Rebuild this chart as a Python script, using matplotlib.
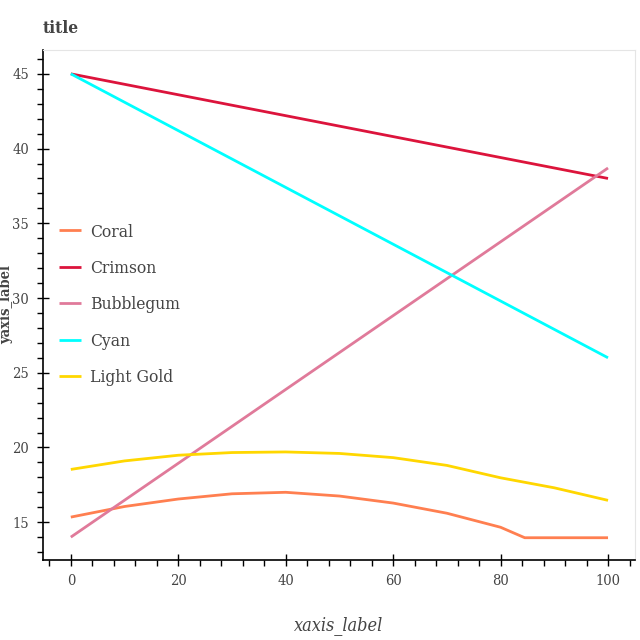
import matplotlib
matplotlib.use('Agg')
import matplotlib.pyplot as plt
from matplotlib.ticker import MultipleLocator

# data
x_lin = [0, 100]
crimson = [45.0, 38.0]
cyan = [45.0, 26.0]
bubblegum = [14.0, 38.7]

x_coral = [0, 10, 20, 30, 40, 50, 60, 70, 80, 84.5, 100]
coral = [15.34, 16.05, 16.55, 16.9, 17.0, 16.75, 16.28, 15.6, 14.66, 13.96, 13.96]

x_gold = [0, 10, 20, 30, 40, 50, 60, 70, 80, 90, 100]
gold = [18.53, 19.1, 19.48, 19.66, 19.7, 19.6, 19.32, 18.8, 17.97, 17.3, 16.46]

names = ['Coral', 'Crimson', 'Bubblegum', 'Cyan', 'Light Gold']
colors = ['#FF7F50', '#DC143C', '#E07A9A', '#00FFFF', '#FFD700']

fams = ['Noto Serif Condensed', 'Roboto Serif Condensed', 'Roboto Slab', 'DejaVu Serif']
font = dict(family=fams, stretch='condensed')

fig = plt.figure(figsize=(6.4, 6.4), dpi=100)
ax = fig.add_axes([0.067, 0.125, 0.925, 0.797])

series = [(x_coral, coral), (x_lin, crimson), (x_lin, bubblegum), (x_lin, cyan), (x_gold, gold)]
for (xs, ys), name, c in zip(series, names, colors):
    ax.plot(xs, ys, color=c, lw=2, label=name, solid_capstyle='butt')

ax.set_xlim(-5.2, 105.0)
ax.set_ylim(12.47, 46.6)
ax.xaxis.set_major_locator(MultipleLocator(20))
ax.xaxis.set_minor_locator(MultipleLocator(4))
ax.yaxis.set_major_locator(MultipleLocator(5))
ax.yaxis.set_minor_locator(MultipleLocator(1))
ax.tick_params(which='major', direction='inout', length=8, width=1, color='black',
               labelcolor='#444444', labelsize=10.5, pad=6)
ax.tick_params(which='minor', direction='out', length=4, width=1, color='black')
for lab in ax.get_xticklabels() + ax.get_yticklabels():
    lab.set_fontfamily(fams)
    lab.set_fontstretch('condensed')

for side in ['top', 'right']:
    ax.spines[side].set_color('#e5e5e5')
for side in ['left', 'bottom']:
    ax.spines[side].set_color('black')
    ax.spines[side].set_linewidth(1.2)

ax.set_xlabel('xaxis_label', fontsize=13, style='italic', color='#444444', **font)
ax.set_ylabel('yaxis_label', fontsize=10.5, fontweight='bold', color='#444444', **font)
ax.xaxis.set_label_coords(0.5, -0.11)
ax.yaxis.set_label_coords(-0.051, 0.5)
fig.text(0.067, 0.956, 'title', fontsize=12.5, fontweight='bold', color='#444444', va='center', **font)

leg = ax.legend(loc='center left', bbox_to_anchor=(0.0, 0.5), frameon=False,
                handlelength=1.3, handletextpad=0.5, labelspacing=1.12,
                prop=dict(size=12.5, **font))
for t in leg.get_texts():
    t.set_color('#444444')

fig.savefig('out.png', dpi=100)
